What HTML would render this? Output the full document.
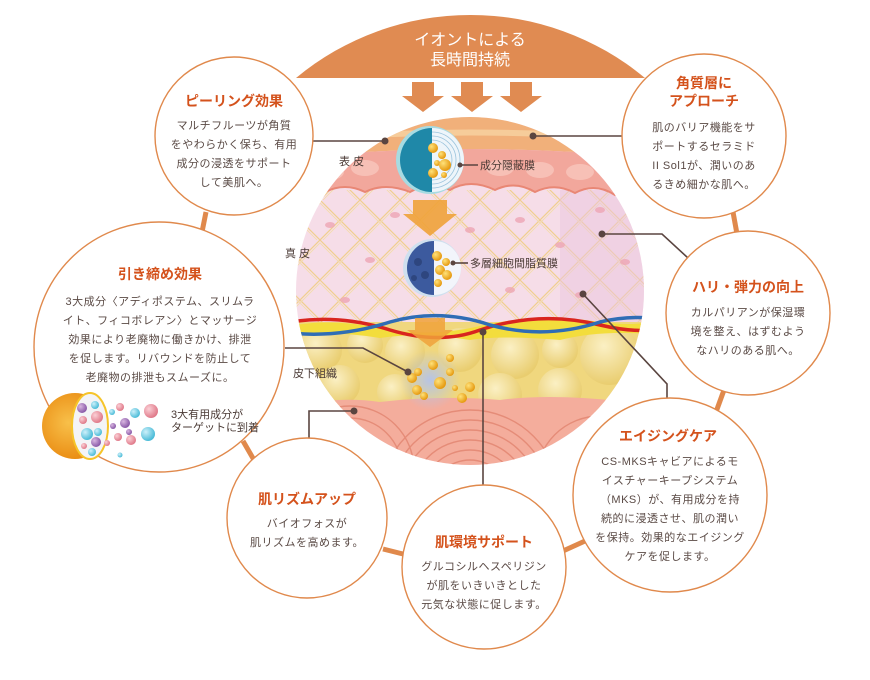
<!DOCTYPE html>
<html><head><meta charset="utf-8"><style>
html,body{margin:0;padding:0;background:#fff}
svg{display:block}
text{font-family:"Liberation Sans","Noto Sans CJK JP",sans-serif}
.t{fill:#d4521c;font-size:14px;font-weight:bold;text-anchor:middle}
.b{fill:#5a4a45;font-size:11px;letter-spacing:0.5px;text-anchor:middle}
.l{fill:#4a3a35;font-size:11px}
.ring{fill:#fff;stroke:#e0894c;stroke-width:1.4}
.con{stroke:#e0894c;stroke-width:5}
.ld{stroke:#5a4540;stroke-width:1.6;fill:none}
</style></head><body>
<svg width="870" height="680" viewBox="0 0 870 680" xmlns="http://www.w3.org/2000/svg">
<defs>
<clipPath id="cc"><circle cx="470" cy="291" r="174"/></clipPath>
<pattern id="lat" width="40" height="40" patternUnits="userSpaceOnUse">
<path d="M0,40 Q20,20 40,0 M0,0 Q20,20 40,40" stroke="#f0cf8e" stroke-width="1.2" fill="none"/>
<path d="M3,40 Q23,20 43,0 M-3,0 Q17,20 37,40" stroke="#f3dca8" stroke-width="0.8" fill="none"/>
</pattern>
<radialGradient id="fat" cx="40%" cy="35%" r="65%"><stop offset="0" stop-color="#fbf0c4"/><stop offset="1" stop-color="#e9cd6f"/></radialGradient>
<radialGradient id="gold" cx="35%" cy="35%" r="65%"><stop offset="0" stop-color="#ffe27a"/><stop offset="1" stop-color="#e69a10"/></radialGradient>
<radialGradient id="orb" cx="40%" cy="45%" r="60%"><stop offset="0" stop-color="#f8c04a"/><stop offset="1" stop-color="#e98a10"/></radialGradient>
<radialGradient id="glow" cx="50%" cy="50%" r="50%"><stop offset="0" stop-color="#b6c4e6"/><stop offset="1" stop-color="#b6c4e6" stop-opacity="0"/></radialGradient>
<radialGradient id="pk" cx="35%" cy="35%" r="65%"><stop offset="0" stop-color="#fbd0d6"/><stop offset="1" stop-color="#e07a8a"/></radialGradient>
<radialGradient id="bl" cx="35%" cy="35%" r="65%"><stop offset="0" stop-color="#cdf0fa"/><stop offset="1" stop-color="#4cbcd8"/></radialGradient>
<radialGradient id="pu" cx="35%" cy="35%" r="65%"><stop offset="0" stop-color="#d8b6e0"/><stop offset="1" stop-color="#8a5aa8"/></radialGradient>
</defs>

<!-- banner -->
<path d="M296,78 A273,273 0 0 1 645,78 Z" fill="#e08b52"/>
<text x="470" y="45" fill="#fff" font-size="16" text-anchor="middle">イオントによる</text>
<text x="470" y="65" fill="#fff" font-size="16" text-anchor="middle">長時間持続</text>
<g fill="#e08b52">
<path d="M412,82h22v14h10l-21,16l-21,-16h10z"/>
<path d="M461,82h22v14h10l-21,16l-21,-16h10z"/>
<path d="M510,82h22v14h10l-21,16l-21,-16h10z"/>
</g>

<!-- ring connectors -->
<line class="con" x1="206" y1="212" x2="202" y2="232"/>
<line class="con" x1="243" y1="441" x2="254" y2="460"/>
<line class="con" x1="383" y1="549" x2="407" y2="555"/>
<line class="con" x1="563" y1="551" x2="585" y2="541"/>
<line class="con" x1="724" y1="390" x2="716" y2="412"/>
<line class="con" x1="733" y1="212" x2="737" y2="234"/>

<!-- central illustration -->
<g clip-path="url(#cc)">
<rect x="290" y="110" width="360" height="360" fill="#f6dde8"/>
<rect x="290" y="190" width="360" height="135" fill="url(#lat)"/>
<rect x="560" y="190" width="90" height="135" fill="#e9c6de" opacity="0.5"/>
<g fill="#eea6b4" opacity="0.8">
<ellipse cx="330" cy="225" rx="5" ry="3"/><ellipse cx="370" cy="260" rx="5" ry="3"/><ellipse cx="395" cy="215" rx="5" ry="3"/>
<ellipse cx="520" cy="220" rx="5" ry="3"/><ellipse cx="560" cy="245" rx="5" ry="3"/><ellipse cx="600" cy="210" rx="5" ry="3"/>
<ellipse cx="625" cy="262" rx="5" ry="3"/><ellipse cx="510" cy="290" rx="5" ry="3"/><ellipse cx="345" cy="300" rx="5" ry="3"/>
<ellipse cx="580" cy="295" rx="5" ry="3"/><ellipse cx="470" cy="230" rx="5" ry="3"/>
</g>
<path d="M290,158 Q470,140 650,158 L650,100 L290,100Z" fill="#f1b07a"/>
<path d="M290,140 Q470,125 650,140" stroke="#f6cc9a" stroke-width="6" fill="none"/>
<path d="M290,158 Q470,140 650,158 L650,192 Q630,185 615,195 Q595,182 575,193 Q555,182 535,192 Q515,180 495,190 Q470,178 450,190 Q430,180 410,192 Q385,182 365,192 Q345,182 325,192 Q305,184 290,190Z" fill="#f2a79c"/>
<g fill="#f7c0b6">
<ellipse cx="330" cy="172" rx="14" ry="8"/><ellipse cx="365" cy="168" rx="14" ry="8"/><ellipse cx="500" cy="168" rx="14" ry="8"/>
<ellipse cx="540" cy="170" rx="14" ry="8"/><ellipse cx="580" cy="172" rx="14" ry="8"/><ellipse cx="618" cy="175" rx="14" ry="8"/>
</g>
<path d="M290,190 Q305,184 325,192 Q345,182 365,192 Q385,182 410,192 Q430,180 450,190 Q470,178 495,190 Q515,180 535,192 Q555,182 575,193 Q595,182 615,195 Q630,185 650,192" stroke="#e98775" stroke-width="2" fill="none"/>
<rect x="290" y="322" width="360" height="90" fill="#f0d77e"/>
<g fill="url(#fat)">
<circle cx="320" cy="350" r="22"/><circle cx="365" cy="345" r="18"/><circle cx="405" cy="352" r="20"/><circle cx="460" cy="350" r="22"/>
<circle cx="515" cy="355" r="24"/><circle cx="560" cy="350" r="18"/><circle cx="610" cy="355" r="30"/><circle cx="340" cy="385" r="20"/>
<circle cx="395" cy="392" r="18"/><circle cx="500" cy="395" r="22"/><circle cx="560" cy="390" r="22"/>
</g>
<path d="M290,326 Q330,318 380,328 Q430,338 480,326 Q540,312 600,322 Q630,326 650,322 L650,334 Q600,330 560,340 Q500,335 470,340 Q420,332 380,338 Q330,330 290,336Z" fill="#f3dd3c"/>
<path d="M290,322 Q340,314 390,330 Q440,345 480,330 Q540,310 600,325 Q630,332 650,330" stroke="#d9251f" stroke-width="3.5" fill="none"/>
<path d="M290,333 Q340,338 390,322 Q440,308 490,325 Q545,340 600,322 Q625,316 650,318" stroke="#2f6db5" stroke-width="3.5" fill="none"/>
<path d="M290,410 Q330,395 380,402 Q440,395 500,400 Q560,392 650,405 L650,470 L290,470Z" fill="#f4ad9c"/>
<g stroke="#e58c78" stroke-width="1.4" fill="none">
<circle cx="470" cy="500" r="40"/><circle cx="470" cy="500" r="50"/><circle cx="470" cy="500" r="60"/><circle cx="470" cy="500" r="70"/><circle cx="470" cy="500" r="80"/><circle cx="470" cy="500" r="90"/>
<circle cx="350" cy="470" r="40"/><circle cx="350" cy="470" r="52"/><circle cx="350" cy="470" r="64"/>
<circle cx="600" cy="480" r="40"/><circle cx="600" cy="480" r="52"/><circle cx="600" cy="480" r="64"/>
</g>
<path d="M413,200h34v14h10l-27,22l-27,-22h10z" fill="#f0a23a" opacity="0.9"/>
<path d="M415,318h30v12h8l-23,17l-23,-17h8z" fill="#f0a23a" opacity="0.85"/>
<circle cx="430" cy="380" r="30" fill="url(#glow)"/>
<g fill="url(#gold)">
<circle cx="433" cy="365" r="5"/><circle cx="418" cy="372" r="4"/><circle cx="412" cy="378" r="5"/><circle cx="440" cy="383" r="6"/>
<circle cx="450" cy="372" r="4"/><circle cx="417" cy="390" r="5"/><circle cx="424" cy="396" r="4"/><circle cx="455" cy="388" r="3"/>
<circle cx="470" cy="387" r="5"/><circle cx="462" cy="398" r="5"/><circle cx="450" cy="358" r="4"/>
</g>
</g>

<circle cx="430" cy="160" r="34" fill="#a7dbe2"/>
<path d="M432,128 A32,32 0 0 0 432,192Z" fill="#1f88a8"/>
<path d="M432,128 A32,32 0 0 1 432,192Z" fill="#eef5fa"/>
<g stroke="#9ac3dc" stroke-width="0.8" fill="none"><path d="M432,132 A28,28 0 0 1 432,188"/><path d="M432,136 A24,24 0 0 1 432,184"/><path d="M432,140 A20,20 0 0 1 432,180"/></g>
<g fill="url(#gold)"><circle cx="433" cy="148" r="5"/><circle cx="442" cy="155" r="4"/><circle cx="437" cy="163" r="3"/><circle cx="445" cy="165" r="6"/><circle cx="433" cy="173" r="5"/><circle cx="444" cy="175" r="3"/></g>
<circle cx="432" cy="268" r="29" fill="#cfe0ef"/>
<path d="M434,241 A27,27 0 0 0 434,295Z" fill="#3c5a9e"/>
<path d="M434,241 A27,27 0 0 1 434,295Z" fill="#f2f5fb"/>
<g fill="#2e467f"><circle cx="418" cy="262" r="4"/><circle cx="425" cy="275" r="4"/><circle cx="414" cy="278" r="3"/></g>
<g fill="url(#gold)"><circle cx="437" cy="256" r="5"/><circle cx="446" cy="262" r="4"/><circle cx="440" cy="270" r="5"/><circle cx="447" cy="275" r="5"/><circle cx="438" cy="283" r="4"/></g>

<g class="ld">
<path d="M312,141H385"/><path d="M533,136H622"/>
<path d="M460,165H478"/><path d="M453,263H468"/>
<path d="M602,234H662L688,258"/>
<path d="M583,294L667,384V398"/>
<path d="M285,348H363L408,372"/>
<path d="M354,411H309V438"/>
<path d="M483,332V485"/>
</g>
<g fill="#5a4540">
<circle cx="385" cy="141" r="3.5"/><circle cx="533" cy="136" r="3.5"/><circle cx="460" cy="165" r="2.5"/><circle cx="453" cy="263" r="2.5"/>
<circle cx="602" cy="234" r="3.5"/><circle cx="583" cy="294" r="3.5"/><circle cx="408" cy="372" r="3.5"/><circle cx="354" cy="411" r="3.5"/><circle cx="483" cy="332" r="3.5"/>
</g>
<text class="l" x="480" y="169" font-size="9">成分隠蔽膜</text>
<text class="l" x="470" y="267" font-size="9">多層細胞間脂質膜</text>
<text class="l" x="339" y="165">表 皮</text>
<text class="l" x="285" y="257">真 皮</text>
<text class="l" x="293" y="377">皮下組織</text>

<circle class="ring" cx="234" cy="136" r="79"/>
<text class="t" x="234" y="106">ピーリング効果</text>
<text class="b" x="234" y="129">マルチフルーツが角質</text>
<text class="b" x="234" y="148">をやわらかく保ち、有用</text>
<text class="b" x="234" y="167">成分の浸透をサポート</text>
<text class="b" x="234" y="186">して美肌へ。</text>

<circle class="ring" cx="704" cy="136" r="82"/>
<text class="t" x="704" y="88">角質層に</text>
<text class="t" x="704" y="106">アプローチ</text>
<text class="b" x="704" y="131">肌のバリア機能をサ</text>
<text class="b" x="704" y="150">ポートするセラミド</text>
<text class="b" x="704" y="169">II Sol1が、潤いのあ</text>
<text class="b" x="704" y="188">るきめ細かな肌へ。</text>

<circle class="ring" cx="159" cy="347" r="125"/>
<text class="t" x="160" y="279">引き締め効果</text>
<text class="b" x="160" y="305">3大成分〈アディポステム、スリムラ</text>
<text class="b" x="160" y="324">イト、フィコボレアン〉とマッサージ</text>
<text class="b" x="160" y="343">効果により老廃物に働きかけ、排泄</text>
<text class="b" x="160" y="362">を促します。リバウンドを防止して</text>
<text class="b" x="160" y="381">老廃物の排泄もスムーズに。</text>
<text class="l" x="171" y="418" font-size="9">3大有用成分が</text>
<text class="l" x="171" y="431" font-size="9">ターゲットに到着</text>
<circle cx="75" cy="426" r="33" fill="url(#orb)"/>
<ellipse cx="90" cy="426" rx="18" ry="33" fill="#f4f4f6" stroke="#f6c42a" stroke-width="2"/>
<g>
<circle cx="82" cy="408" r="5" fill="url(#pu)"/><circle cx="95" cy="405" r="4" fill="url(#bl)"/><circle cx="97" cy="417" r="6" fill="url(#pk)"/>
<circle cx="83" cy="420" r="4" fill="url(#pk)"/><circle cx="87" cy="434" r="6" fill="url(#bl)"/><circle cx="98" cy="432" r="4" fill="url(#bl)"/>
<circle cx="96" cy="442" r="5" fill="url(#pu)"/><circle cx="84" cy="446" r="3" fill="url(#pk)"/><circle cx="92" cy="452" r="4" fill="url(#bl)"/>
<circle cx="112" cy="412" r="3" fill="url(#bl)"/><circle cx="120" cy="407" r="4" fill="url(#pk)"/><circle cx="135" cy="413" r="5" fill="url(#bl)"/>
<circle cx="151" cy="411" r="7" fill="url(#pk)"/><circle cx="125" cy="423" r="5" fill="url(#pu)"/><circle cx="148" cy="434" r="7" fill="url(#bl)"/>
<circle cx="113" cy="426" r="3" fill="url(#pu)"/><circle cx="118" cy="437" r="4" fill="url(#pk)"/><circle cx="131" cy="440" r="5" fill="url(#pk)"/>
<circle cx="107" cy="443" r="3" fill="url(#pk)"/><circle cx="129" cy="432" r="3" fill="url(#pu)"/><circle cx="120" cy="455" r="2.5" fill="url(#bl)"/>
</g>

<circle class="ring" cx="748" cy="313" r="82"/>
<text class="t" x="748" y="292">ハリ・弾力の向上</text>
<text class="b" x="748" y="316">カルパリアンが保湿環</text>
<text class="b" x="748" y="335">境を整え、はずむよう</text>
<text class="b" x="748" y="354">なハリのある肌へ。</text>

<circle class="ring" cx="670" cy="495" r="97"/>
<text class="t" x="668" y="441">エイジングケア</text>
<text class="b" x="670" y="465">CS-MKSキャビアによるモ</text>
<text class="b" x="670" y="484">イスチャーキープシステム</text>
<text class="b" x="670" y="503">（MKS）が、有用成分を持</text>
<text class="b" x="670" y="522">続的に浸透させ、肌の潤い</text>
<text class="b" x="670" y="541">を保持。効果的なエイジング</text>
<text class="b" x="670" y="560">ケアを促します。</text>

<circle class="ring" cx="307" cy="518" r="80"/>
<text class="t" x="307" y="504">肌リズムアップ</text>
<text class="b" x="307" y="527">バイオフォスが</text>
<text class="b" x="307" y="546">肌リズムを高めます。</text>

<circle class="ring" cx="484" cy="567" r="82"/>
<text class="t" x="484" y="547">肌環境サポート</text>
<text class="b" x="484" y="570">グルコシルヘスペリジン</text>
<text class="b" x="484" y="589">が肌をいきいきとした</text>
<text class="b" x="484" y="608">元気な状態に促します。</text>
</svg>
</body></html>
